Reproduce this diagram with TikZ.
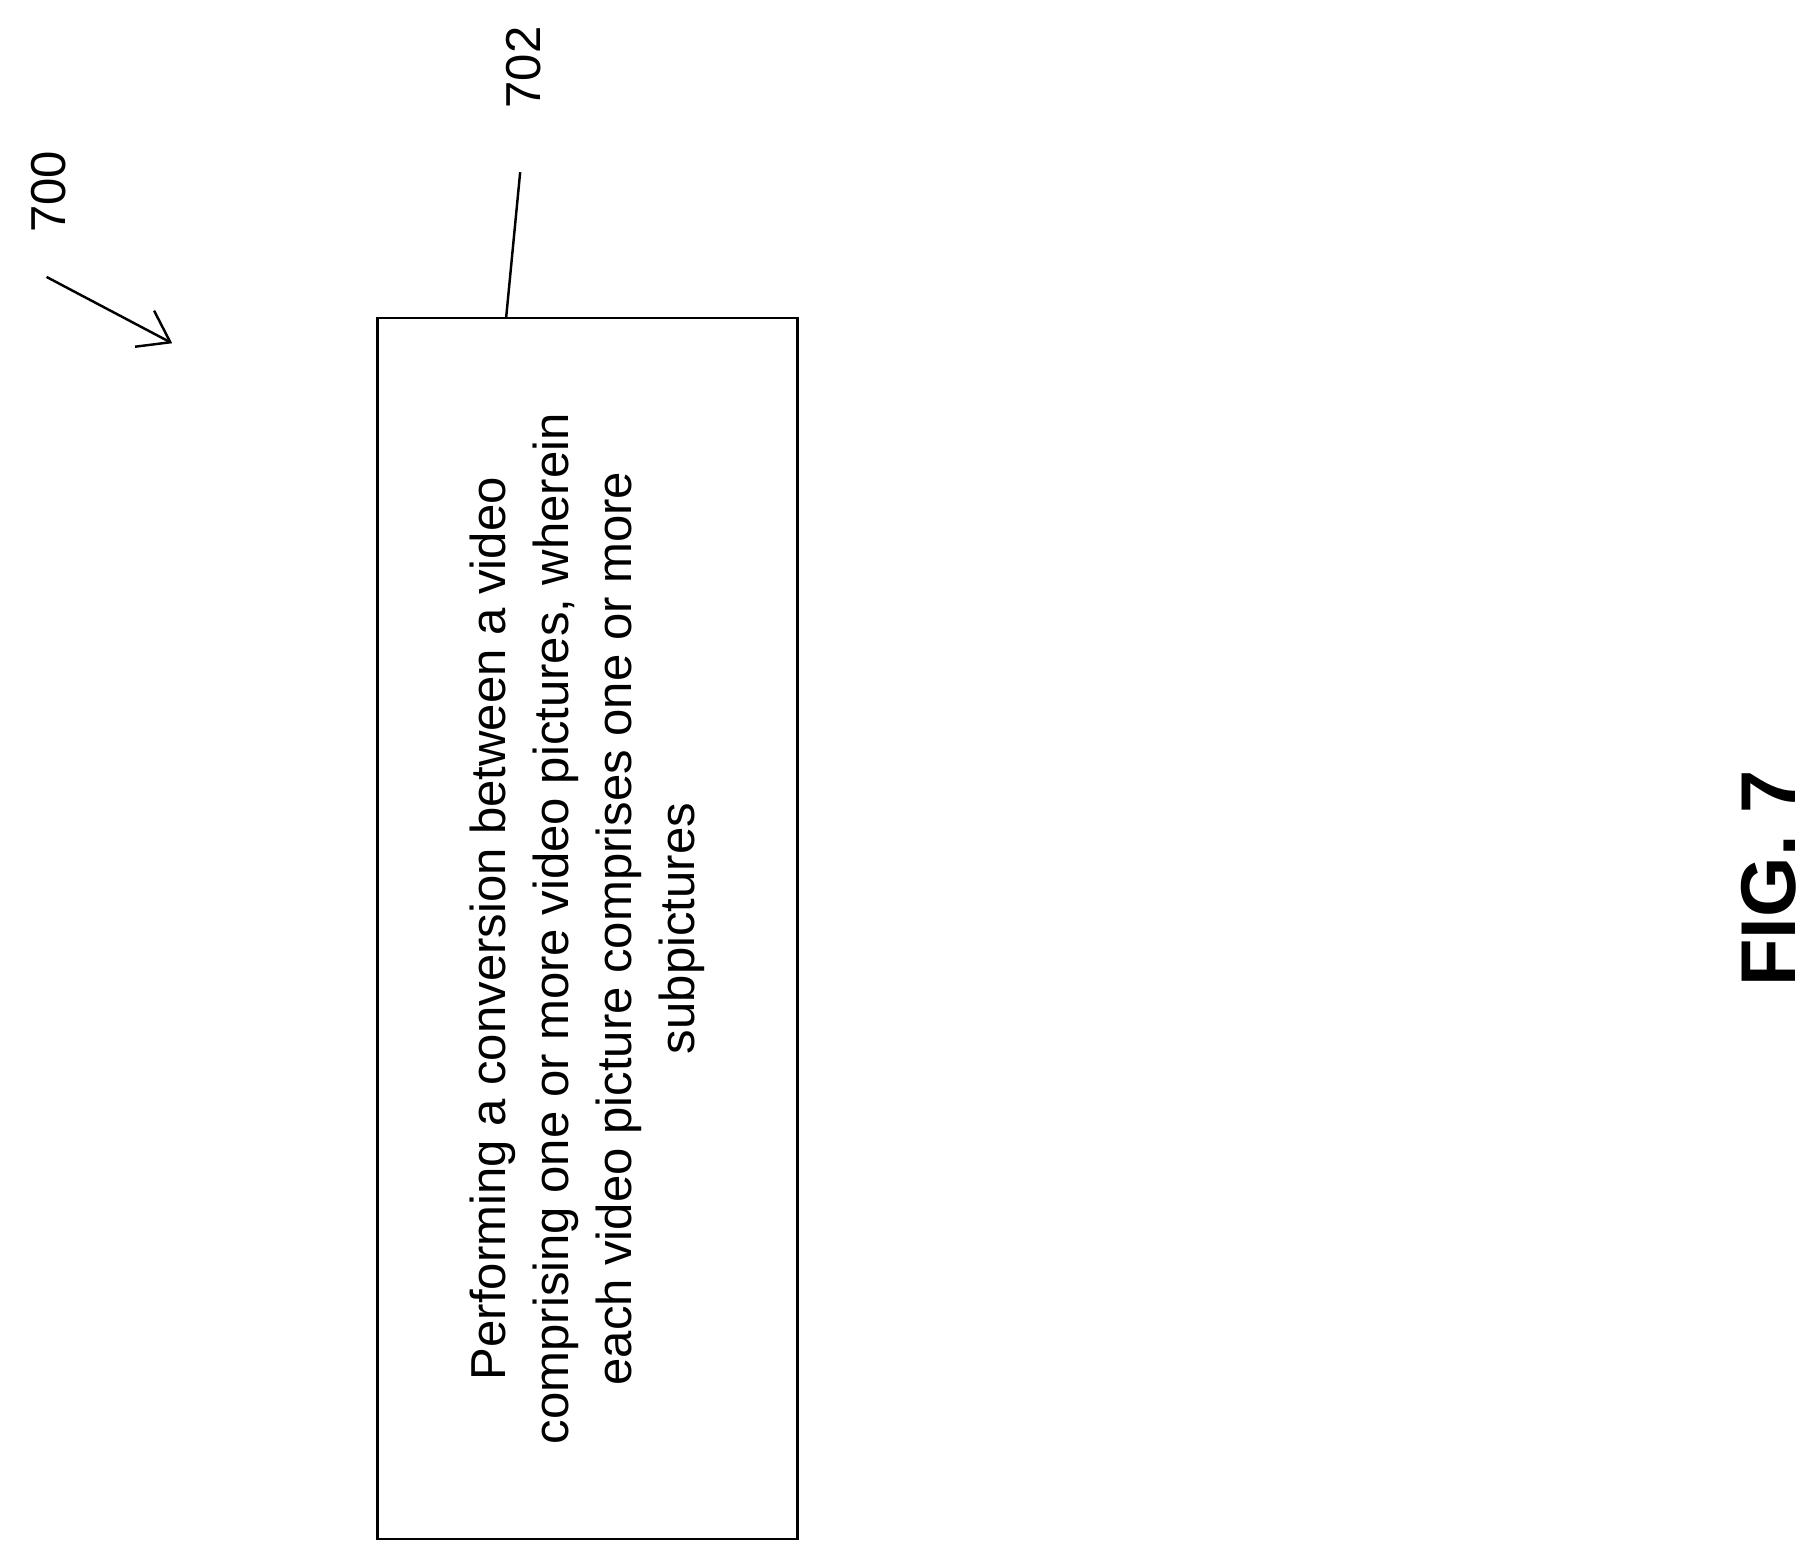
\documentclass[tikz,border=0pt]{standalone}
\usepackage{fontspec}
\setmainfont{Liberation Sans}
\usetikzlibrary{arrows.meta}
\tikzset{
  stepbox/.style={draw, line width=0.6pt, minimum width=36.1mm, minimum height=104.9mm, inner sep=0pt},
  reflabel/.style={rotate=90, font=\fontsize{12}{14}\selectfont},
  leader/.style={line width=0.6pt}
}
\begin{document}
\begin{tikzpicture}[x=0.1mm,y=-0.1mm]
  \useasboundingbox (0,0) rectangle (1558,1339);
  \node (box) [stepbox] at (505,798) {};
  \node (txt) [rotate=90, align=center, font=\fontsize{12}{15.4}\selectfont] at (box.center)
    {Performing a conversion between a video\\comprising one or more video pictures, wherein\\each video picture comprises one or more\\subpictures};
  \node (l700) [reflabel] at (42,165) {700};
  \coordinate (a0) at (40,238);
  \coordinate (a1) at (148,295);
  \draw [leader,-{Straight Barb[length=2.5mm,width=3.5mm]}] (a0) -- (a1);
  \node (l702) [reflabel] at (450,58) {702};
  \coordinate (b0) at (447,148);
  \draw [leader] (b0) -- (box.north west -| 435,0);
  \node (fig) [rotate=90, font=\fontsize{19}{23}\selectfont\bfseries] at (1520,755) {FIG. 7};
\end{tikzpicture}
\end{document}
